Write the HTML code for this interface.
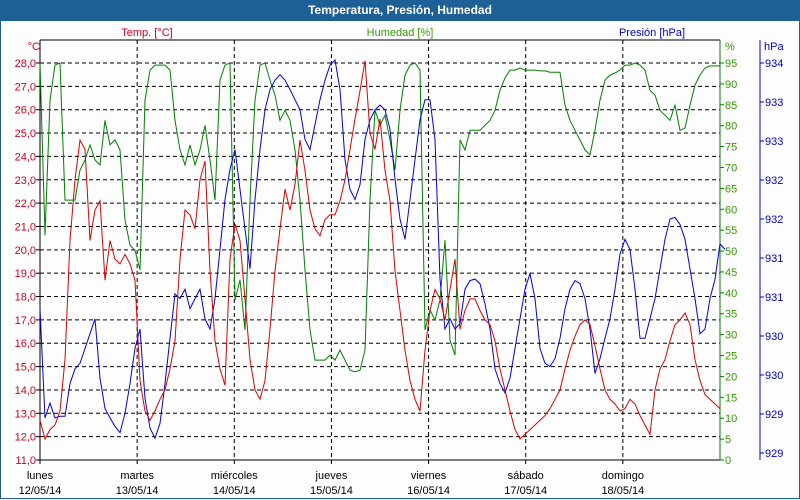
<!DOCTYPE html>
<html><head><meta charset="utf-8"><style>
body{margin:0;background:#fff;}
#wrap{position:relative;width:800px;height:500px;overflow:hidden;background:#fcfdfc;font-family:"Liberation Sans",sans-serif;}
#title{position:absolute;left:0;top:0;width:800px;height:21px;background:#1e5f96;color:#fff;font-weight:bold;font-size:12px;text-align:center;line-height:21px;}
#frame{position:absolute;left:0;top:21px;width:798px;height:477px;border:1px solid #1e5f96;border-top:none;}
svg text{font-family:"Liberation Sans",sans-serif;font-size:11px;}
</style></head><body>
<div id="wrap">
<div id="title">Temperatura, Presión, Humedad</div>
<div id="frame"></div>
<svg id="chart" width="800" height="500" style="position:absolute;left:0;top:0"></svg>
</div>
<script>
const dayLabels=["lunes","martes","miércoles","jueves","viernes","sábado","domingo"];
const dateLabels=["12/05/14","13/05/14","14/05/14","15/05/14","16/05/14","17/05/14","18/05/14"];
const tempTicks=["28,0","27,0","26,0","25,0","24,0","23,0","22,0","21,0","20,0","19,0","18,0","17,0","16,0","15,0","14,0","13,0","12,0","11,0"];
const humTicks=[95,90,85,80,75,70,65,60,55,50,45,40,35,30,25,20,15,10,5,0];
const presTicks=["934","933","933","932","932","931","931","930","930","929","929"];
const temp=[12.7,11.9,12.3,12.5,13.1,15.3,20.4,23.0,24.7,24.3,20.4,21.7,22.1,18.7,20.4,19.6,19.4,19.8,19.4,18.7,14.4,13.1,12.7,13.1,13.6,14.0,14.9,16.1,19.6,21.7,21.5,20.9,23.0,23.8,19.1,16.1,14.9,14.2,19.6,21.1,20.4,17.9,15.3,14.0,13.6,14.4,16.6,19.1,20.9,22.6,21.7,22.8,24.7,23.4,21.7,20.9,20.6,21.3,21.5,21.5,22.1,23.0,24.3,25.6,26.8,28.1,25.0,24.3,25.6,23.4,22.1,19.1,17.4,15.7,14.4,13.6,13.1,15.7,17.4,18.3,17.9,17.0,18.3,19.6,16.6,17.4,17.9,17.9,17.4,17.0,16.8,16.1,14.9,14.0,13.1,12.3,11.9,12.1,12.3,12.5,12.7,12.9,13.2,13.6,14.0,14.9,15.7,16.3,16.8,17.0,16.8,15.9,14.9,14.0,13.6,13.4,13.1,13.2,13.6,13.4,12.9,12.5,12.1,14.0,14.9,15.3,16.1,16.8,17.0,17.3,16.8,15.3,14.4,13.8,13.6,13.4,13.2];
const hum=[95,53.8,86.1,94.5,95,62.2,62.2,62.2,69.4,71.8,75.4,71.8,70.6,81.3,75.4,76.6,74.2,57.4,51.4,50.2,45.5,86.1,93.3,94.5,94.5,94.5,93.3,81.3,74.2,70.6,75.4,70.6,74.2,80.1,71.8,62.2,90.9,94.5,95,38.3,43.1,31.1,62.2,86.1,94.5,95,90.9,87.3,81.3,83.7,81.3,74.2,62.2,45.5,31.1,23.9,23.9,23.9,25.1,23.9,26.3,23.9,21.5,21.1,21.5,26.3,62.2,83.7,80.1,82.5,76.6,69.4,83.7,92.1,94.5,95,93.3,31.1,35.9,33.5,38.3,52.6,28.7,25.1,76.6,74.2,78.9,78.9,78.9,80.1,81.3,83.7,88.5,91.4,93.3,93.3,93.8,93.3,93.3,93.3,93.1,93.1,92.8,92.8,92.8,84.9,81.3,78.9,76.6,74.2,73.0,78.9,86.1,90.9,92.1,92.6,93.3,94.5,94.5,95,94.5,93.3,88.5,87.3,83.7,82.5,81.3,84.9,78.9,79.4,84.9,89.7,92.1,93.8,94.3,94.3,94.3];
const pres=[930.85,929.45,929.64,929.45,929.47,929.47,929.89,930.08,930.15,930.34,930.53,930.72,929.96,929.57,929.45,929.34,929.26,929.51,929.89,930.34,930.59,929.70,929.32,929.19,929.38,929.89,930.47,931.04,930.98,931.10,930.85,930.98,931.10,930.72,930.59,930.98,931.61,932.25,932.64,932.89,932.38,931.87,931.36,932.25,932.89,933.40,933.66,933.78,933.85,933.78,933.66,933.53,933.40,933.02,932.89,933.21,933.53,933.78,933.97,934.04,933.66,932.76,932.38,932.25,932.44,933.02,933.27,933.40,933.46,933.40,933.15,932.51,932.00,931.74,932.25,932.76,933.27,933.53,933.53,933.02,931.23,930.59,930.72,930.59,930.66,931.10,931.21,931.23,931.17,930.91,930.59,930.08,929.89,929.77,929.96,930.34,930.72,931.10,931.30,930.98,930.34,930.15,930.11,930.21,930.47,930.85,931.10,931.21,931.17,930.98,930.59,930.02,930.21,930.47,930.72,931.10,931.55,931.74,931.61,931.10,930.47,930.47,930.72,930.98,931.36,931.74,932.00,932.02,931.93,931.74,931.36,930.98,930.53,930.59,930.98,931.23,931.68,931.61];
const svg=document.getElementById('chart');const NS='http://www.w3.org/2000/svg';
const L=40,R=720,T=40,B=460,Y0=63;
const xIdx=i=>L+(R-L)*i/(temp.length-1);
const xDay=d=>L+(R-L)*d/7;
const yT=v=>B-(v-11)*(B-Y0)/17;
const yH=v=>B-v*(B-Y0)/95;
const yP=v=>453-(v-929)*78;
function mk(tag,at,parent){const e=document.createElementNS(NS,tag);for(const k in at)e.setAttribute(k,at[k]);(parent||svg).appendChild(e);return e;}
function txt(x,y,s,fill,anchor){const t=mk('text',{x:x,y:y,fill:fill,'text-anchor':anchor||'start'});t.textContent=s;return t;}
// grid
for(let k=0;k<=17;k++){const y=yT(11+k);const g=mk('line',{x1:L,x2:R,y1:y,y2:y,stroke:'#000','stroke-dasharray':'4,3'});

}
for(let d=1;d<7;d++){const g=mk('line',{x1:xDay(d),x2:xDay(d),y1:T,y2:B,stroke:'#000','stroke-dasharray':'4,3'});

}
// axes
let a=mk('line',{x1:L,x2:R,y1:T,y2:T,stroke:'#000'});
a=mk('line',{x1:L,x2:L,y1:T,y2:B,stroke:'#000'});
a=mk('line',{x1:L,x2:R,y1:B,y2:B,stroke:'#000'});
a=mk('line',{x1:R,x2:R,y1:T,y2:B,stroke:'#008000'});
a=mk('line',{x1:760,x2:760,y1:T,y2:B,stroke:'#0000dd'});
// tick labels
tempTicks.forEach((s,k)=>{const y=yT(28-k);mk('line',{x1:L-4,x2:L,y1:y,y2:y,stroke:'#000'});const t=txt(L-4,y+4,s,'#cc0022','end');

});
humTicks.forEach(v=>{const y=yH(v);mk('line',{x1:R,x2:R+4,y1:y,y2:y,stroke:'#008000'});const t=txt(R+5,y+4,String(v),'#339900');

});
presTicks.forEach((s,k)=>{const y=yP(934-k*0.5);mk('line',{x1:760,x2:764,y1:y,y2:y,stroke:'#0000dd'});const t=txt(765,y+4,s,'#0000cc');

});
dayLabels.forEach((s,d)=>{const x=xDay(d);mk('line',{x1:x,x2:x,y1:B,y2:B+4,stroke:'#000'});const t=txt(x,479,s,'#000','middle');


const t2=txt(x,494,dateLabels[d],'#000','middle');

});
let t=txt(40,50,'°C','#cc0022','end');
t=txt(147,36,'Temp. [°C]','#cc0022','middle');
t=txt(400,36,'Humedad [%]','#339900','middle');
t=txt(652,36,'Presión [hPa]','#0000cc','middle');
t=txt(725,50,'%','#339900');
t=txt(764,50,'hPa','#0000cc');
// series
function line(arr,yf,col,name){const p=mk('polyline',{points:arr.map((v,i)=>xIdx(i).toFixed(1)+','+yf(v).toFixed(1)).join(' '),fill:'none',stroke:col,'stroke-width':1});

}
line(hum,yH,'#008000','humidity-line');
line(pres,yP,'#0000dd','pressure-line');
line(temp,yT,'#dd0000','temperature-line');
</script>
</body></html>
